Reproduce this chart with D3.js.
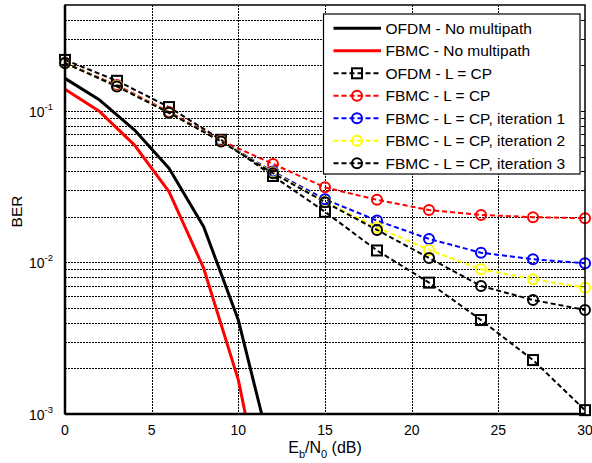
<!DOCTYPE html>
<html>
<head>
<meta charset="utf-8">
<script src="https://cdn.jsdelivr.net/npm/d3@7"></script>
<style>
  body { margin: 0; background: #fff; }
  text { font-family: Arial, "Liberation Sans", Helvetica, sans-serif; }
</style>
</head>
<body>
<div id="chart"></div>
<script>
// solid curves (no multipath), Eb/N0 step 2 dB
const snrFine = [0, 2, 4, 6, 8, 10, 12];
const ofdmNoMp = [0.164, 0.118, 0.075, 0.0419, 0.0172, 0.00417, 0.0005];
const fbmcNoMp = [0.139, 0.099, 0.0597, 0.0293, 0.00916, 0.00168, 0.00013];

// marker curves, Eb/N0 step 3 dB
const snrCoarse = [0, 3, 6, 9, 12, 15, 18, 21, 24, 27, 30];
const ofdmCp  = [0.217, 0.158, 0.106, 0.0645, 0.0372, 0.0216, 0.0120, 0.00736, 0.00417, 0.00227, 0.00106];
const fbmcCp  = [0.207, 0.148, 0.0985, 0.0637, 0.0447, 0.0313, 0.0259, 0.0222, 0.0206, 0.0199, 0.0196];
const fbmcIt1 = [0.207, 0.146, 0.0974, 0.0632, 0.0398, 0.0261, 0.0189, 0.0143, 0.0116, 0.0105, 0.00988];
const fbmcIt2 = [0.207, 0.146, 0.0974, 0.0630, 0.0393, 0.0252, 0.0170, 0.0121, 0.00902, 0.00775, 0.00682];
const fbmcIt3 = [0.207, 0.145, 0.0972, 0.0628, 0.0388, 0.0250, 0.0164, 0.0107, 0.00700, 0.00565, 0.00486];

const xTicks = [0, 5, 10, 15, 20, 25, 30];
const yDecades = [1e-3, 1e-2, 1e-1];

const series = [
    { name: "OFDM - No multipath", x: snrFine, y: ofdmNoMp, color: "#000", dash: null, width: 3, marker: null },
    { name: "FBMC - No multipath", x: snrFine, y: fbmcNoMp, color: "#ff0000", dash: null, width: 3, marker: null },
    { name: "OFDM - L = CP", x: snrCoarse, y: ofdmCp, color: "#000", dash: "5,3", width: 2, marker: "square" },
    { name: "FBMC - L = CP", x: snrCoarse, y: fbmcCp, color: "#ff0000", dash: "5,3", width: 2, marker: "circle" },
    { name: "FBMC - L = CP, iteration 1", x: snrCoarse, y: fbmcIt1, color: "#0000ff", dash: "5,3", width: 2, marker: "circle" },
    { name: "FBMC - L = CP, iteration 2", x: snrCoarse, y: fbmcIt2, color: "#ffff00", dash: "5,3", width: 2, marker: "circle" },
    { name: "FBMC - L = CP, iteration 3", x: snrCoarse, y: fbmcIt3, color: "#000", dash: "5,3", width: 2, marker: "circle" }
];

const W = 592, H = 463;
const margin = { top: 5, right: 7, bottom: 49, left: 65 };
const width = W - margin.left - margin.right;
const height = H - margin.top - margin.bottom;

const svg = d3.select("#chart").append("svg")
    .attr("width", W)
    .attr("height", H);

const g = svg.append("g")
    .attr("transform", "translate(" + margin.left + "," + margin.top + ")");

const x = d3.scaleLinear().domain([0, 30]).range([0, width]);
const y = d3.scaleLog().domain([1e-3, 0.5]).range([height, 0]);

g.append("clipPath").attr("id", "clip")
    .append("rect").attr("width", width).attr("height", height);

// grid: vertical at major ticks, horizontal at every log tick
const gridStyle = sel => sel.attr("stroke", "#000").attr("stroke-width", 1).attr("stroke-dasharray", "2,1");

g.selectAll(".vgrid").data(xTicks.slice(1, -1)).enter().append("line")
    .attr("class", "vgrid")
    .attr("x1", d => Math.round(x(d)) + 0.5).attr("x2", d => Math.round(x(d)) + 0.5)
    .attr("y1", 0).attr("y2", height)
    .call(gridStyle);

const logTicks = y.ticks().filter(d => d > 1e-3 * 1.001 && d < 0.5 * 0.999);
g.selectAll(".hgrid").data(logTicks).enter().append("line")
    .attr("class", "hgrid")
    .attr("x1", 0).attr("x2", width)
    .attr("y1", d => Math.round(y(d)) + 0.5).attr("y2", d => Math.round(y(d)) + 0.5)
    .call(gridStyle);

// minor ticks on right, inward
g.selectAll(".rtick").data(logTicks).enter().append("line")
    .attr("x1", width).attr("x2", width - 4)
    .attr("y1", d => Math.round(y(d)) + 0.5).attr("y2", d => Math.round(y(d)) + 0.5)
    .attr("stroke", "#000");

// curves
const plot = g.append("g").attr("clip-path", "url(#clip)");
const line = d3.line().x(d => x(d[0])).y(d => y(d[1]));

series.forEach(s => {
    const pts = s.x.map((v, i) => [v, s.y[i]]);
    plot.append("path")
        .datum(pts)
        .attr("fill", "none")
        .attr("stroke", s.color)
        .attr("stroke-width", s.width)
        .attr("stroke-dasharray", s.dash)
        .attr("stroke-linejoin", "round")
        .attr("d", line);
});

const drawMarker = (sel, type, color, cx, cy) => {
    if (type === "circle") {
        sel.append("circle").attr("cx", cx).attr("cy", cy).attr("r", 5)
            .attr("fill", "none").attr("stroke", color).attr("stroke-width", 2);
    } else if (type === "square") {
        sel.append("rect").attr("x", cx - 5).attr("y", cy - 5)
            .attr("width", 10).attr("height", 10)
            .attr("fill", "none").attr("stroke", color).attr("stroke-width", 2);
    }
};

const markers = g.append("g");
series.forEach(s => {
    if (!s.marker) return;
    s.x.forEach((v, i) => drawMarker(markers, s.marker, s.color, x(v), y(s.y[i])));
});

// axes box
g.append("rect")
    .attr("width", width).attr("height", height)
    .attr("fill", "none").attr("stroke", "#000").attr("stroke-width", 1.5);
g.append("line").attr("x1", 0).attr("x2", width).attr("y1", height).attr("y2", height)
    .attr("stroke", "#000").attr("stroke-width", 2.5);
g.append("line").attr("x1", 0).attr("x2", 0).attr("y1", 0).attr("y2", height)
    .attr("stroke", "#000").attr("stroke-width", 2.5);

// x tick labels
g.selectAll(".xlab").data(xTicks).enter().append("text")
    .attr("x", d => x(d)).attr("y", height + 20.5)
    .attr("text-anchor", "middle")
    .attr("font-size", 14)
    .text(d => d);

// y tick labels (10^n)
const ylab = g.selectAll(".ylab").data(yDecades).enter().append("text")
    .attr("x", -12).attr("y", d => y(d) + 6)
    .attr("text-anchor", "end")
    .attr("font-size", 14);
ylab.append("tspan").text("10");
ylab.append("tspan").attr("dy", -7).attr("font-size", 9.5).text(d => Math.round(Math.log10(d)));

// axis titles
const xt = g.append("text")
    .attr("x", width / 2).attr("y", height + 39)
    .attr("text-anchor", "middle")
    .attr("font-size", 16);
xt.append("tspan").text("E");
xt.append("tspan").attr("font-size", 11).attr("dy", 5).text("b");
xt.append("tspan").attr("dy", -5).text("/N");
xt.append("tspan").attr("font-size", 11).attr("dy", 5).text("0");
xt.append("tspan").attr("dy", -5).text(" (dB)");

g.append("text")
    .attr("transform", "translate(" + (-43) + "," + (height / 2 + 2) + ") rotate(-90)")
    .attr("text-anchor", "middle")
    .attr("font-size", 15.5)
    .text("BER");

// legend
const legX = 323.5 - margin.left, legY = 14 - margin.top;
const legW = 256.5, legH = 160;
const legend = g.append("g").attr("transform", "translate(" + legX + "," + legY + ")");
legend.append("rect")
    .attr("width", legW).attr("height", legH)
    .attr("fill", "#fff").attr("stroke", "#000").attr("stroke-width", 1.2);

const rows = legend.selectAll(".leg").data(series).enter().append("g")
    .attr("transform", (d, i) => "translate(0," + (14.3 + i * 22.5) + ")");
rows.append("line")
    .attr("x1", 10).attr("x2", 57.5)
    .attr("stroke", d => d.color)
    .attr("stroke-width", d => d.width)
    .attr("stroke-dasharray", d => d.dash);
rows.each(function (d) {
    if (d.marker) drawMarker(d3.select(this), d.marker, d.color, 33.5, 0);
});
rows.append("text")
    .attr("x", 62).attr("y", 5.5)
    .attr("font-size", 15.5)
    .text(d => d.name);
</script>
</body>
</html>
